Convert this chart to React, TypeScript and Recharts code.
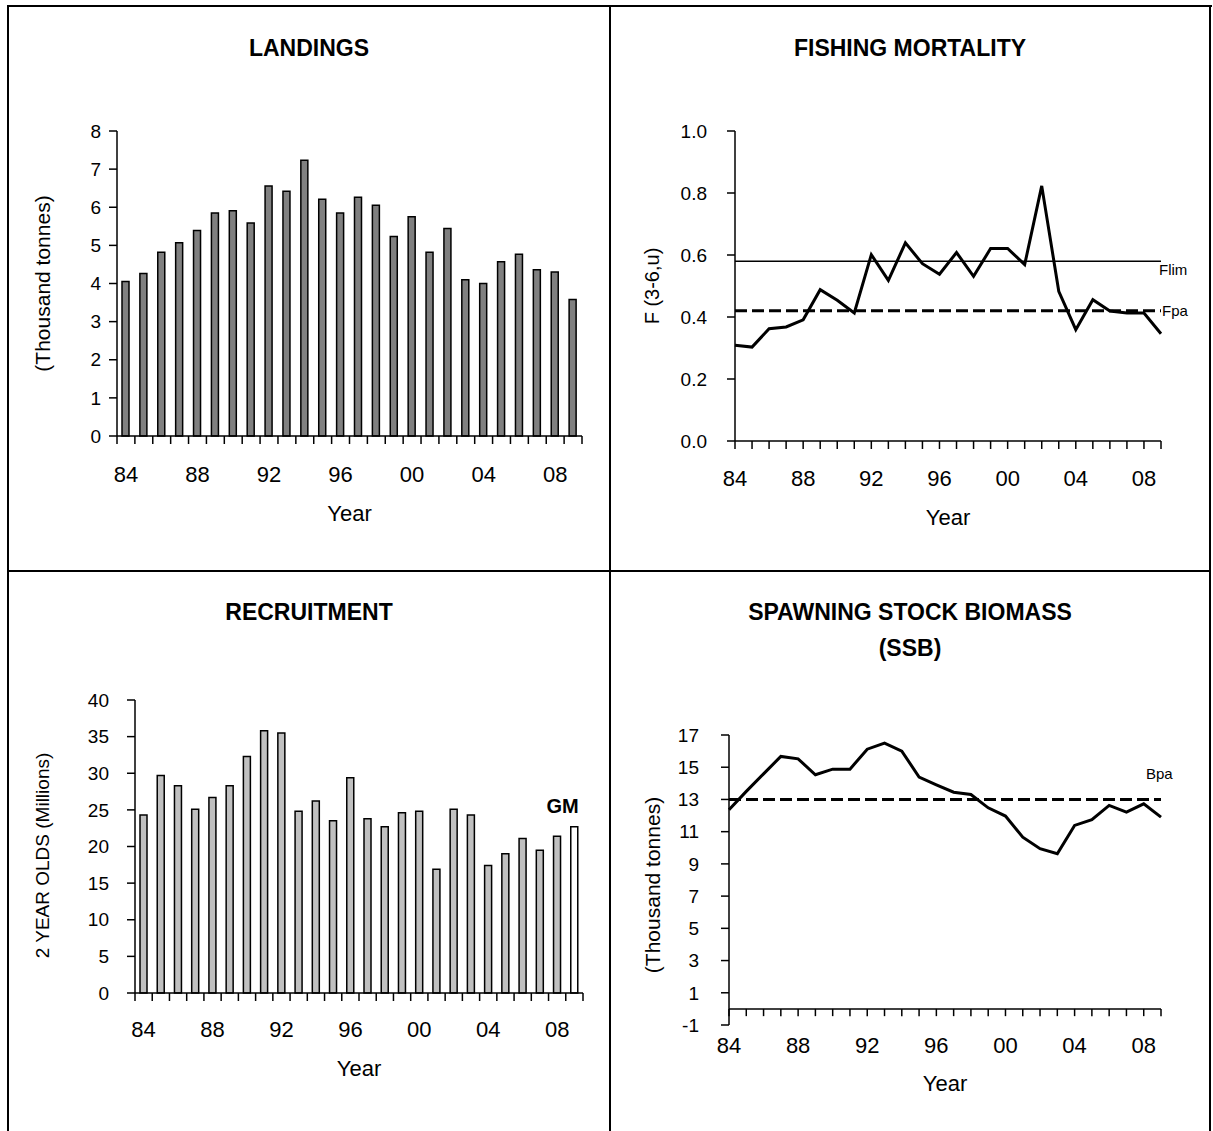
import React from 'react';
import { BarChart, Bar, LineChart, Line, XAxis, YAxis, ReferenceLine, Cell, LabelList } from 'recharts';

const years = [1984, 1985, 1986, 1987, 1988, 1989, 1990, 1991, 1992, 1993, 1994, 1995, 1996, 1997, 1998, 1999, 2000, 2001, 2002, 2003, 2004, 2005, 2006, 2007, 2008, 2009];
const labelYears = [1984, 1988, 1992, 1996, 2000, 2004, 2008];
const landings = [4.05, 4.26, 4.82, 5.07, 5.39, 5.85, 5.91, 5.59, 6.56, 6.42, 7.23, 6.21, 5.85, 6.26, 6.05, 5.23, 5.75, 4.82, 5.44, 4.1, 4.0, 4.57, 4.77, 4.36, 4.3, 3.58];
const fishingMortality = [0.309, 0.303, 0.362, 0.368, 0.391, 0.488, 0.454, 0.413, 0.601, 0.518, 0.639, 0.572, 0.538, 0.608, 0.531, 0.621, 0.621, 0.569, 0.823, 0.483, 0.359, 0.456, 0.419, 0.413, 0.413, 0.346];
const recruitment = [24.3, 29.7, 28.3, 25.1, 26.7, 28.3, 32.3, 35.8, 35.5, 24.8, 26.2, 23.5, 29.4, 23.8, 22.7, 24.6, 24.8, 16.9, 25.1, 24.3, 17.4, 19.0, 21.1, 19.5, 21.4, 22.7];
const ssb = [12.36, 13.5, 14.59, 15.67, 15.52, 14.53, 14.88, 14.88, 16.12, 16.5, 16.0, 14.39, 13.91, 13.45, 13.31, 12.48, 11.97, 10.66, 9.94, 9.63, 11.39, 11.74, 12.63, 12.21, 12.73, 11.9];

const landingsTicks = [0, 1, 2, 3, 4, 5, 6, 7, 8];
const fTicks = [0, 0.2, 0.4, 0.6, 0.8, 1.0];
const recruitTicks = [0, 5, 10, 15, 20, 25, 30, 35, 40];
const ssbTicks = [-1, 1, 3, 5, 7, 9, 11, 13, 15, 17];

const Flim = 0.58;
const Fpa = 0.42;
const Bpa = 13;
const gmLabel = 'GM';

const FONT = '"Liberation Sans", Arial, Helvetica, sans-serif';

const landingsData = years.map((y, i) => ({ year: y, value: landings[i] }));
const fData = years.map((y, i) => ({ year: y, f: fishingMortality[i] }));
const recruitData = years.map((y, i) => ({ year: y, value: recruitment[i] }));
const ssbData = years.map((y, i) => ({ year: y, ssb: ssb[i] }));

const fmtYear = (v: number) => String(v % 100).padStart(2, '0');
const labelSet = new Set(labelYears);

const barTicks = [
  ...years.map((y) => y - 0.5),
  years[years.length - 1] + 0.5,
  ...labelYears,
].sort((a, b) => a - b);

const makeBarTick = (baselineOffset: number) => (props: any) => {
  const { x, y, payload } = props;
  const v = payload.value;
  if (Number.isInteger(v)) {
    return (
      <text x={x} y={y + baselineOffset} textAnchor="middle" fontSize={22} fill="#000">
        {fmtYear(v)}
      </text>
    );
  }
  return <line x1={x} y1={y} x2={x} y2={y + 8} stroke="#000" strokeWidth={1.5} />;
};

const yLabel = (text: string, offsetX: number, shiftY: number, size: number) => ({
  content: (p: any) => {
    const vb = p.viewBox;
    const cx = vb.x + offsetX;
    const cy = vb.y + vb.height / 2 + shiftY;
    return (
      <text
        x={cx}
        y={cy}
        transform={`rotate(-90 ${cx} ${cy})`}
        textAnchor="middle"
        dominantBaseline="central"
        fontSize={size}
        fill="#000"
      >
        {text}
      </text>
    );
  },
});

const axisLine = { stroke: '#000', strokeWidth: 1.5 };
const tickLine = { stroke: '#000', strokeWidth: 1.5 };
const yTick = { fontSize: 19, fill: '#000' };

const Title = ({ left, top, lines }: { left: number; top: number; lines: string[] }) => (
  <div
    style={{
      position: 'absolute',
      left,
      top,
      width: 600,
      textAlign: 'center',
      fontWeight: 'bold',
      fontSize: 23,
      lineHeight: '36px',
      color: '#000',
    }}
  >
    {lines.map((l) => (
      <div key={l}>{l}</div>
    ))}
  </div>
);

const Rule = ({ left, top, width, height }: { left: number; top: number; width: number; height: number }) => (
  <div style={{ position: 'absolute', left, top, width, height, background: '#000' }} />
);

export default function App() {
  const lastIdx = years.length - 1;
  return (
    <div style={{ position: 'absolute', left: 0, top: 0, width: 1213, height: 1131, background: '#fff', fontFamily: FONT, overflow: 'hidden' }}>
      <Rule left={7} top={5} width={1205} height={2} />
      <Rule left={7} top={5} width={2} height={1130} />
      <Rule left={1209} top={5} width={2} height={1130} />
      <Rule left={609} top={5} width={2} height={1130} />
      <Rule left={7} top={570} width={1204} height={2} />

      <Title left={9} top={30} lines={['LANDINGS']} />
      <Title left={610} top={30} lines={['FISHING MORTALITY']} />
      <Title left={9} top={594} lines={['RECRUITMENT']} />
      <Title left={610} top={594} lines={['SPAWNING STOCK BIOMASS', '(SSB)']} />

      {/* LANDINGS */}
      <div style={{ position: 'absolute', left: 10, top: 100 }}>
        <BarChart width={582} height={431} data={landingsData} margin={{ top: 31, right: 10, bottom: 10, left: 0 }}>
          <XAxis
            dataKey="year"
            type="number"
            domain={[1983.5, 2009.5]}
            ticks={barTicks}
            interval={0}
            tickSize={0}
            tickMargin={0}
            tickLine={false}
            axisLine={axisLine}
            tick={makeBarTick(46)}
            height={85}
            label={{ value: 'Year', position: 'insideBottom', offset: 0, fontSize: 22, fill: '#000' }}
          />
          <YAxis
            width={107}
            domain={[0, 8]}
            ticks={landingsTicks}
            interval={0}
            tickSize={8}
            tickMargin={8}
            axisLine={axisLine}
            tickLine={tickLine}
            tick={yTick}
            label={yLabel('(Thousand tonnes)', 32, 0, 21)}
          />
          <Bar dataKey="value" fill="#808080" stroke="#000" strokeWidth={1.5} barSize={7} isAnimationActive={false} />
        </BarChart>
      </div>

      {/* FISHING MORTALITY */}
      <div style={{ position: 'absolute', left: 612, top: 100 }}>
        <LineChart width={588} height={435} data={fData} margin={{ top: 31, right: 39, bottom: 10, left: 0 }}>
          <XAxis
            dataKey="year"
            type="number"
            domain={[1984, 2009]}
            ticks={years}
            interval={0}
            tickFormatter={(v: number) => (labelSet.has(v) ? fmtYear(v) : '')}
            tickSize={8}
            tickMargin={21}
            axisLine={axisLine}
            tickLine={tickLine}
            tick={{ fontSize: 22, fill: '#000' }}
            height={84}
            label={{ value: 'Year', position: 'insideBottom', offset: 0, fontSize: 22, fill: '#000' }}
          />
          <YAxis
            width={123}
            domain={[0, 1]}
            ticks={fTicks}
            interval={0}
            tickFormatter={(v: number) => v.toFixed(1)}
            tickSize={8}
            tickMargin={20}
            axisLine={axisLine}
            tickLine={tickLine}
            tick={yTick}
            label={yLabel('F (3-6,u)', 40, 0, 20)}
          />
          <ReferenceLine
            y={Flim}
            stroke="#000"
            strokeWidth={1.5}
            label={{
              content: (p: any) => {
                const vb = p.viewBox;
                return (
                  <text x={vb.x + vb.width - 2} y={vb.y + 14} fontSize={15} fill="#000">
                    Flim
                  </text>
                );
              },
            }}
          />
          <ReferenceLine
            y={Fpa}
            stroke="#000"
            strokeWidth={3}
            strokeDasharray="12 5"
            label={{
              content: (p: any) => {
                const vb = p.viewBox;
                return (
                  <text x={vb.x + vb.width + 1} y={vb.y + 5} fontSize={15} fill="#000">
                    Fpa
                  </text>
                );
              },
            }}
          />
          <Line type="linear" dataKey="f" stroke="#000" strokeWidth={3} dot={false} isAnimationActive={false} />
        </LineChart>
      </div>

      {/* RECRUITMENT */}
      <div style={{ position: 'absolute', left: 10, top: 670 }}>
        <BarChart width={588} height={416} data={recruitData} margin={{ top: 30, right: 15, bottom: 10, left: 0 }}>
          <XAxis
            dataKey="year"
            type="number"
            domain={[1983.5, 2009.5]}
            ticks={barTicks}
            interval={0}
            tickSize={0}
            tickMargin={0}
            tickLine={false}
            axisLine={axisLine}
            tick={makeBarTick(44)}
            height={83}
            label={{ value: 'Year', position: 'insideBottom', offset: 0, fontSize: 22, fill: '#000' }}
          />
          <YAxis
            width={125}
            domain={[0, 40]}
            ticks={recruitTicks}
            interval={0}
            tickSize={8}
            tickMargin={18}
            axisLine={axisLine}
            tickLine={tickLine}
            tick={yTick}
            label={yLabel('2 YEAR OLDS (Millions)', 32, 9, 19)}
          />
          <Bar dataKey="value" stroke="#000" strokeWidth={1.5} barSize={7} isAnimationActive={false}>
            {recruitData.map((d, i) => (
              <Cell key={d.year} fill={i === lastIdx ? '#ffffff' : '#c0c0c0'} />
            ))}
            <LabelList
              dataKey="value"
              content={(p: any) =>
                p.index === lastIdx ? (
                  <text x={p.x + p.width + 1} y={p.y - 14} textAnchor="end" fontSize={20} fontWeight="bold" fill="#000">
                    {gmLabel}
                  </text>
                ) : null
              }
            />
          </Bar>
        </BarChart>
      </div>

      {/* SSB */}
      <div style={{ position: 'absolute', left: 612, top: 700 }}>
        <LineChart width={588} height={401} data={ssbData} margin={{ top: 35, right: 39, bottom: 10, left: 0 }}>
          <XAxis
            dataKey="year"
            type="number"
            domain={[1984, 2009]}
            ticks={years}
            interval={0}
            tickFormatter={(v: number) => (labelSet.has(v) ? fmtYear(v) : '')}
            tickSize={0}
            tickMargin={12}
            axisLine={false}
            tickLine={false}
            tick={{ fontSize: 22, fill: '#000' }}
            height={66}
            label={{ value: 'Year', position: 'insideBottom', offset: 0, fontSize: 22, fill: '#000' }}
          />
          <YAxis
            width={117}
            domain={[-1, 17]}
            ticks={ssbTicks}
            interval={0}
            tickSize={8}
            tickMargin={22}
            axisLine={axisLine}
            tickLine={tickLine}
            tick={yTick}
            label={yLabel('(Thousand tonnes)', 40, 5, 21)}
          />
          <ReferenceLine y={0} stroke="#000" strokeWidth={1.5} />
          {years.map((y) => (
            <ReferenceLine key={y} segment={[{ x: y, y: 0 }, { x: y, y: -0.45 }]} stroke="#000" strokeWidth={1.5} />
          ))}
          <ReferenceLine
            y={Bpa}
            stroke="#000"
            strokeWidth={3}
            strokeDasharray="12 5"
            label={{
              content: (p: any) => {
                const vb = p.viewBox;
                return (
                  <text x={vb.x + vb.width - 15} y={vb.y - 20} fontSize={15} fill="#000">
                    Bpa
                  </text>
                );
              },
            }}
          />
          <Line type="linear" dataKey="ssb" stroke="#000" strokeWidth={3} dot={false} isAnimationActive={false} />
        </LineChart>
      </div>
    </div>
  );
}
